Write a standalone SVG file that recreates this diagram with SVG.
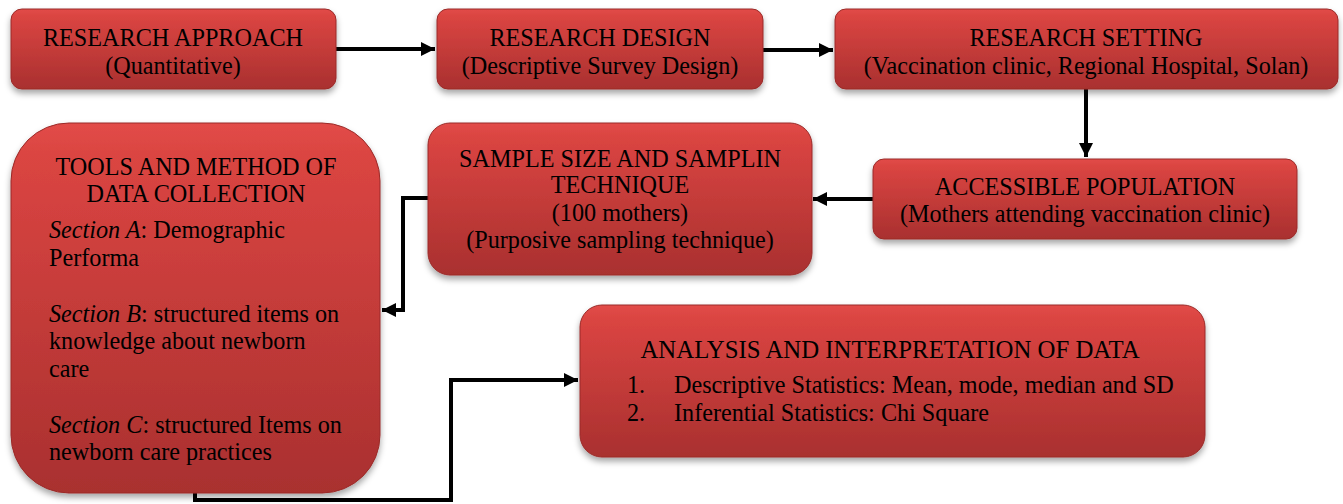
<svg xmlns="http://www.w3.org/2000/svg" width="1343" height="504" viewBox="0 0 1343 504">
<style>
.box{fill:url(#g);stroke:#9a2a28;stroke-width:1;filter:url(#sh)}
.t{font-family:"Liberation Serif","Times New Roman",serif;font-size:24.2px;fill:#000}
.a{font-size:24.8px}
.c{text-anchor:middle}
.conn{fill:none;stroke:#000;stroke-width:4;marker-end:url(#ah)}
</style>
<defs>
<linearGradient id="g" x1="0" y1="0" x2="0" y2="1">
<stop offset="0" stop-color="#e24c48"/>
<stop offset="0.08" stop-color="#db4542"/>
<stop offset="1" stop-color="#a9302f"/>
</linearGradient>
<filter id="sh" x="-10%" y="-10%" width="120%" height="130%">
<feDropShadow dx="0" dy="4" stdDeviation="3" flood-color="#000" flood-opacity="0.35"/>
</filter>
<marker id="ah" markerUnits="userSpaceOnUse" markerWidth="16" markerHeight="16" refX="14" refY="7" orient="auto">
<path d="M0,0 L14,7 L0,14 z" fill="#000"/>
</marker>
</defs>
<g id="connectors">
<path class="conn" d="M336,49 H435"/>
<path class="conn" d="M763,50 H833"/>
<path class="conn" d="M1086,89 V157"/>
<path class="conn" d="M873,199 H813"/>
<path class="conn" d="M428,198 H403 V310 H382"/>
<path class="conn" d="M195,490 V500 H451 V380 H578"/>
</g>
<g id="approach">
<rect class="box" x="11" y="9" width="325" height="80" rx="11"/>
<text class="t c" x="173" y="46">RESEARCH APPROACH</text>
<text class="t c" x="173" y="74">(Quantitative)</text>
</g>
<g id="design">
<rect class="box" x="437" y="9" width="326" height="80" rx="11"/>
<text class="t c" x="600" y="46">RESEARCH DESIGN</text>
<text class="t c" x="600" y="74">(Descriptive Survey Design)</text>
</g>
<g id="setting">
<rect class="box" x="835" y="9" width="503" height="80" rx="11"/>
<text class="t c" x="1086" y="46">RESEARCH SETTING</text>
<text class="t c" x="1086" y="74">(Vaccination clinic, Regional Hospital, Solan)</text>
</g>
<g id="population">
<rect class="box" x="873" y="159" width="424" height="80" rx="11"/>
<text class="t c" x="1085" y="195">ACCESSIBLE POPULATION</text>
<text class="t c" x="1085" y="222">(Mothers attending vaccination clinic)</text>
</g>
<g id="sample">
<rect class="box" x="428" y="123" width="384" height="152" rx="22"/>
<text class="t c" x="620" y="167">SAMPLE SIZE AND SAMPLIN</text>
<text class="t c" x="620" y="193">TECHNIQUE</text>
<text class="t c" x="620" y="221">(100 mothers)</text>
<text class="t c" x="620" y="248">(Purposive sampling technique)</text>
</g>
<g id="tools">
<rect class="box" x="11" y="123" width="369" height="370" rx="58"/>
<text class="t c" x="196" y="175">TOOLS AND METHOD OF</text>
<text class="t c" x="196" y="202">DATA COLLECTION</text>
<text class="t" x="49" y="238"><tspan font-style="italic">Section A</tspan>: Demographic</text>
<text class="t" x="49" y="266">Performa</text>
<text class="t" x="49" y="322"><tspan font-style="italic">Section B</tspan>: structured items on</text>
<text class="t" x="49" y="349">knowledge about newborn</text>
<text class="t" x="49" y="377">care</text>
<text class="t" x="49" y="433"><tspan font-style="italic">Section C</tspan>: structured Items on</text>
<text class="t" x="49" y="460">newborn care practices</text>
</g>
<g id="analysis">
<rect class="box" x="580" y="305" width="625" height="152" rx="22"/>
<text class="t a c" x="890" y="358">ANALYSIS AND INTERPRETATION OF DATA</text>
<text class="t" x="627" y="393">1.</text>
<text class="t" x="674" y="393">Descriptive Statistics: Mean, mode, median and SD</text>
<text class="t" x="627" y="421">2.</text>
<text class="t" x="674" y="421">Inferential Statistics: Chi Square</text>
</g>
</svg>
